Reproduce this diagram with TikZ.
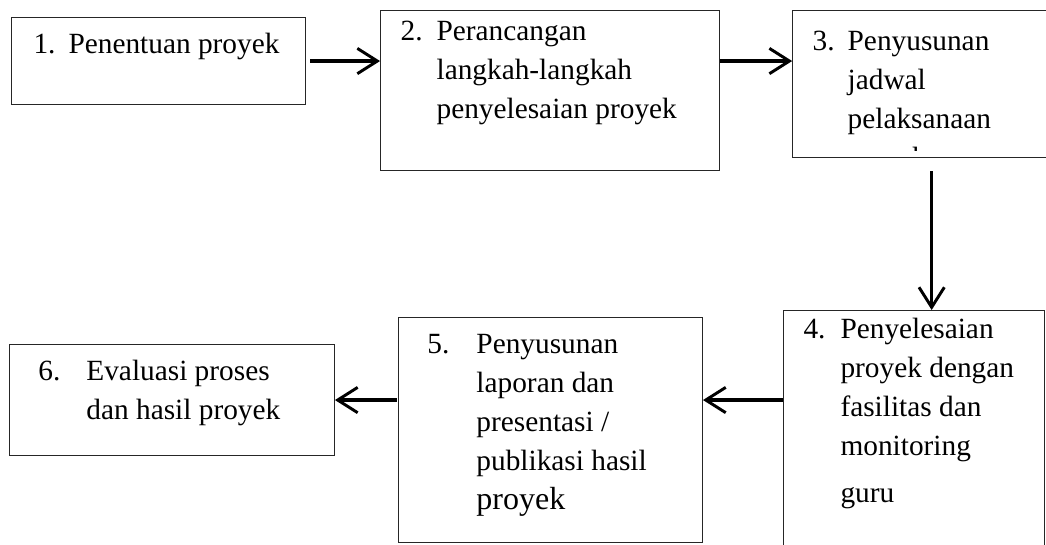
\documentclass[tikz,border=0pt]{standalone}
\usepackage{fontspec}
\setmainfont{Liberation Serif}
\usetikzlibrary{arrows.meta,positioning}

\newdimen\pxu \pxu=0.75pt
\newcommand{\stepfont}{\fontsize{22pt}{29.25pt}\selectfont}
% #1 width, #2 height, #3 top gap, #4 left gap, #5 number width, #6 number, #7 lines
\newcommand{\steptext}[7]{\parbox[b][#2\pxu][t]{#1\pxu}{\vspace*{#3\pxu}\noindent\hspace*{#4\pxu}\makebox[#5\pxu][l]{#6}\begin{tabular}[t]{@{}l@{}}#7\end{tabular}}}

\begin{document}
\begin{tikzpicture}[x=0.75pt, y=-0.75pt]

        % styles
        \tikzstyle{stepbox} = [rectangle, draw=black!85, line width=0.8pt, inner sep=0pt, anchor=north west, font=\stepfont]
        \tikzstyle{arrow} = [line width=2.6pt, -{Straight Barb[length=15pt, width=19pt, line width=2.2pt]}]

        \useasboundingbox (0,0) rectangle (1046,544);

        % nodes
        \node (penentuan) [stepbox] at (11,17) {\steptext{294}{87}{8.7}{22}{35}{1.}{Penentuan proyek}};
        \node (perancangan) [stepbox, right=74\pxu of penentuan.north east, anchor=north west, yshift=7\pxu] {\steptext{339}{160}{2.7}{20}{36}{2.}{Perancangan\\langkah-langkah\\penyelesaian proyek}};
        \node (jadwal) [stepbox, right=72\pxu of perancangan.north east, anchor=north west] {\steptext{278}{147}{12.7}{20}{35}{3.}{Penyusunan\\jadwal\\pelaksanaan}};
        \node (penyelesaian) [stepbox] at (783,310) {\steptext{261}{260}{0.7}{20}{37}{4.}{Penyelesaian\\proyek dengan\\fasilitas dan\\monitoring\\[8\pxu]guru}};
        \node (laporan) [stepbox, left=80\pxu of penyelesaian.north west, anchor=north east, yshift=-7\pxu] {\steptext{304}{225}{8.7}{29}{49}{5.}{Penyusunan\\laporan dan\\presentasi /\\publikasi hasil\\{\fontsize{24pt}{29.25pt}\selectfont proyek}}};
        \node (evaluasi) [stepbox, left=63\pxu of laporan.north west, anchor=north east, yshift=-27\pxu] {\steptext{325}{111}{8.7}{29}{48}{6.}{Evaluasi proses\\dan hasil proyek}};

        % cut-off last line of box 3
        \begin{scope}
            \clip (790,10) rectangle (1046,150);
            \node (jadwalsisa) [anchor=base west, inner sep=0pt, font=\stepfont] at (845,167) {proyek};
        \end{scope}

        % connections
        \draw [arrow, shorten <=4\pxu] (penentuan.east) -- (penentuan.east -| perancangan.west);
        \draw [arrow] (perancangan.east |- penentuan.east) -- (jadwal.west |- penentuan.east);
        \draw [arrow, shorten <=13\pxu] (jadwal.south) -- (jadwal.south |- penyelesaian.north);
        \draw [arrow] (penyelesaian.west |- evaluasi.east) -- (laporan.east |- evaluasi.east);
        \draw [arrow, shorten <=1\pxu] (laporan.west |- evaluasi.east) -- (evaluasi.east);

\end{tikzpicture}
\end{document}
